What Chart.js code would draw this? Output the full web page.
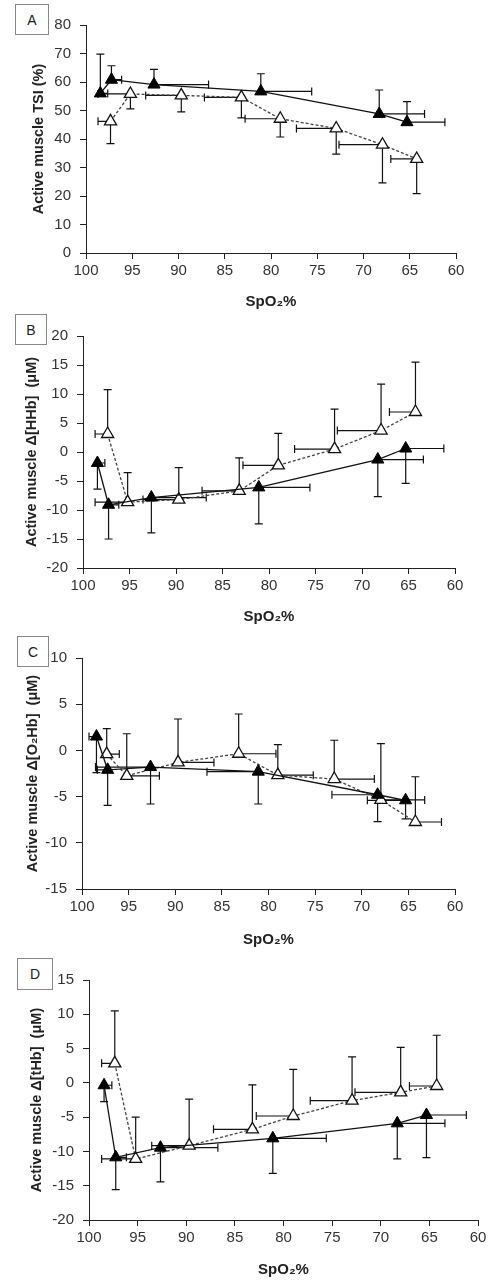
<!DOCTYPE html>
<html>
<head>
<meta charset="utf-8">
<script src="https://cdn.jsdelivr.net/npm/chart.js@4.4.1/dist/chart.umd.min.js"></script>
<style>
  body { margin: 0; background: #fff; }
  #page { position: relative; width: 494px; height: 1283px; overflow: hidden; }
  canvas { position: absolute; left: 0; }
  .tag {
    position: absolute; box-sizing: border-box; border: 1px solid #888;
    font: 14px "Liberation Sans", Arial, sans-serif; color: #222;
    display: flex; align-items: center; justify-content: center;
  }
</style>
</head>
<body>
<div id="page">
  <div class="tag" style="left:15px;top:4px;width:34px;height:31px">A</div>
  <div class="tag" style="left:15px;top:314px;width:32px;height:31px">B</div>
  <div class="tag" style="left:17px;top:636px;width:32px;height:31px">C</div>
  <div class="tag" style="left:17px;top:958px;width:36px;height:32px">D</div>
  <canvas id="chart-a" width="494" height="318" style="top:0px"></canvas>
  <canvas id="chart-b" width="494" height="322" style="top:318px"></canvas>
  <canvas id="chart-c" width="494" height="315" style="top:640px"></canvas>
  <canvas id="chart-d" width="494" height="328" style="top:955px"></canvas>
</div>
<script>
// SpO2 (x) shared by all panels, with SD used for horizontal bars
var spo2Filled = [98.45, 97.25, 92.65, 81.1, 68.3, 65.3]
var spo2FilledSD = [0.8, 1.1, 5.9, 5.5, 4.9, 4.1]
var spo2Open = [97.35, 95.2, 89.7, 83.2, 79.0, 72.95, 67.95, 64.25]
var spo2OpenSD = [1.35, 3.5, 3.85, 4.0, 3.8, 4.3, 4.7, 2.8]

var spo2Ticks = [100, 95, 90, 85, 80, 75, 70, 65, 60]

// A: TSI (%)
var tsiFilled = [56.0, 60.8, 59.1, 56.7, 48.8, 45.9]
var tsiFilledSD = [13.8, 4.9, 5.3, 6.2, 8.4, 7.2]
var tsiOpen = [46.2, 55.8, 55.3, 54.6, 47.1, 43.7, 38.0, 33.0]
var tsiOpenSD = [7.8, 5.2, 5.8, 7.2, 6.4, 9.0, 13.4, 12.2]

// B: delta HHb (uM)
var hhbFilled = [-1.9, -9.1, -7.85, -6.1, -1.3, 0.6]
var hhbFilledSD = [4.5, 5.9, 6.1, 6.3, 6.4, 6.0]
var hhbOpen = [3.1, -8.65, -8.2, -6.7, -2.3, 0.5, 3.7, 6.9]
var hhbOpenSD = [7.65, 5.1, 5.5, 5.7, 5.5, 6.9, 8.0, 8.6]

// C: delta O2Hb (uM)
var o2hbFilled = [1.5, -2.1, -1.8, -2.3, -4.8, -5.4]
var o2hbFilledSD = [3.9, 3.85, 4.0, 3.5, 2.9, 2.0]
var o2hbOpen = [-0.4, -2.75, -1.3, -0.36, -2.68, -3.1, -5.36, -7.75]
var o2hbOpenSD = [2.75, 4.55, 4.7, 4.3, 3.3, 4.2, 6.1, 4.9]

// D: delta tHb (uM)
var thbFilled = [-0.35, -10.86, -9.45, -8.09, -5.9, -4.69]
var thbFilledSD = [2.4, 4.7, 5.0, 5.1, 5.2, 6.2]
var thbOpen = [2.85, -11.1, -9.16, -6.78, -4.83, -2.6, -1.38, -0.46]
var thbOpenSD = [7.65, 6.1, 6.8, 6.5, 6.8, 6.4, 6.55, 7.4]

var FONT = "'Liberation Sans', Arial, sans-serif"
var CAP = 4

// one-sided error bars, drawn under the lines and markers
var errorBars = {
  id: "errorBars",
  beforeDatasetsDraw: function (chart) {
    var ctx = chart.ctx
    var xs = chart.scales.x
    var ys = chart.scales.y
    ctx.save()
    ctx.strokeStyle = "#111"
    ctx.lineWidth = 1.2
    chart.data.datasets.forEach(function (ds) {
      ds.data.forEach(function (p, i) {
        var px = xs.getPixelForValue(p.x)
        var py = ys.getPixelForValue(p.y)
        var ex = xs.getPixelForValue(p.x + ds.dirX * ds.errX[i])
        var ey = ys.getPixelForValue(p.y + ds.dirY * ds.errY[i])
        ctx.beginPath()
        ctx.moveTo(px, py); ctx.lineTo(ex, py)
        ctx.moveTo(ex, py - CAP); ctx.lineTo(ex, py + CAP)
        ctx.moveTo(px, py); ctx.lineTo(px, ey)
        ctx.moveTo(px - CAP, ey); ctx.lineTo(px + CAP, ey)
        ctx.stroke()
      })
    })
    ctx.restore()
  }
}

function points(xs, ys) {
  return xs.map(function (x, i) { return { x: x, y: ys[i] } })
}

function makePanel(id, p) {
  return new Chart(document.getElementById(id), {
    type: "scatter",
    data: {
      datasets: [
        {
          label: "filled",
          data: points(spo2Filled, p.filled),
          errX: spo2FilledSD, errY: p.filledSD, dirX: p.fdx, dirY: p.fdy,
          showLine: true,
          borderColor: "#111",
          borderWidth: 1.3,
          pointStyle: "triangle",
          pointRadius: 7,
          pointBackgroundColor: "#000",
          pointBorderColor: "#000",
          pointBorderWidth: 1
        },
        {
          label: "open",
          data: points(spo2Open, p.open),
          errX: spo2OpenSD, errY: p.openSD, dirX: p.odx, dirY: p.ody,
          showLine: true,
          borderColor: "#444",
          borderWidth: 1.3,
          borderDash: [3, 2],
          pointStyle: "triangle",
          pointRadius: 7,
          pointBackgroundColor: "#fff",
          pointBorderColor: "#111",
          pointBorderWidth: 1.3
        }
      ]
    },
    options: {
      responsive: false,
      animation: false,
      devicePixelRatio: 1,
      layout: {
        padding: { left: 0, right: p.padRight, top: p.padTop, bottom: 0 }
      },
      plugins: {
        legend: { display: false },
        tooltip: { enabled: false }
      },
      scales: {
        x: {
          type: "linear",
          reverse: true,
          min: 60,
          max: 100,
          afterFit: function (s) { s.height = p.xHeight },
          afterBuildTicks: function (s) {
            s.ticks = spo2Ticks.map(function (v) { return { value: v } })
          },
          ticks: { color: "#333", padding: 3, font: { family: FONT, size: 15 } },
          grid: { drawOnChartArea: false, drawTicks: true, tickLength: 6, color: "#222" },
          border: { display: true, color: "#222", width: 1 },
          title: {
            display: true,
            text: "SpO₂%",
            color: "#222",
            padding: { top: 0, bottom: p.xTitlePad },
            font: { family: FONT, size: 15, weight: "bold" }
          }
        },
        y: {
          min: p.yMin,
          max: p.yMax,
          afterFit: function (s) { s.width = p.yWidth },
          ticks: { stepSize: p.yStep, color: "#333", padding: 9, font: { family: FONT, size: 15 } },
          grid: { drawOnChartArea: false, drawTicks: true, tickLength: 6, color: "#222" },
          border: { display: true, color: "#222", width: 1 },
          title: {
            display: true,
            text: p.yTitle,
            color: "#222",
            padding: { top: p.yTitlePad, bottom: 0 },
            font: { family: FONT, size: 14.5, weight: "bold" }
          }
        }
      }
    },
    plugins: [errorBars]
  })
}

var chartA = makePanel("chart-a", {
  filled: tsiFilled, filledSD: tsiFilledSD, open: tsiOpen, openSD: tsiOpenSD,
  fdx: -1, fdy: 1, odx: 1, ody: -1,
  yMin: 0, yMax: 80, yStep: 10,
  yTitle: "Active muscle TSI (%)",
  yWidth: 86, padRight: 38, padTop: 25, xHeight: 65, xTitlePad: 7, yTitlePad: 30
})

var chartB = makePanel("chart-b", {
  filled: hhbFilled, filledSD: hhbFilledSD, open: hhbOpen, openSD: hhbOpenSD,
  fdx: -1, fdy: -1, odx: 1, ody: 1,
  yMin: -20, yMax: 20, yStep: 5,
  yTitle: "Active muscle Δ[HHb]  (μM)",
  yWidth: 83, padRight: 39, padTop: 16, xHeight: 72, xTitlePad: 14, yTitlePad: 23
})

var chartC = makePanel("chart-c", {
  filled: o2hbFilled, filledSD: o2hbFilledSD, open: o2hbOpen, openSD: o2hbOpenSD,
  fdx: 1, fdy: -1, odx: -1, ody: 1,
  yMin: -15, yMax: 10, yStep: 5,
  yTitle: "Active muscle Δ[O₂Hb]  (μM)",
  yWidth: 82, padRight: 39, padTop: 16, xHeight: 66, xTitlePad: 6, yTitlePad: 24
})

var chartD = makePanel("chart-d", {
  filled: thbFilled, filledSD: thbFilledSD, open: thbOpen, openSD: thbOpenSD,
  fdx: -1, fdy: -1, odx: 1, ody: 1,
  yMin: -20, yMax: 15, yStep: 5,
  yTitle: "Active muscle Δ[tHb]  (μM)",
  yWidth: 89, padRight: 16, padTop: 25, xHeight: 63, xTitlePad: 4, yTitlePad: 28
})
</script>
</body>
</html>
